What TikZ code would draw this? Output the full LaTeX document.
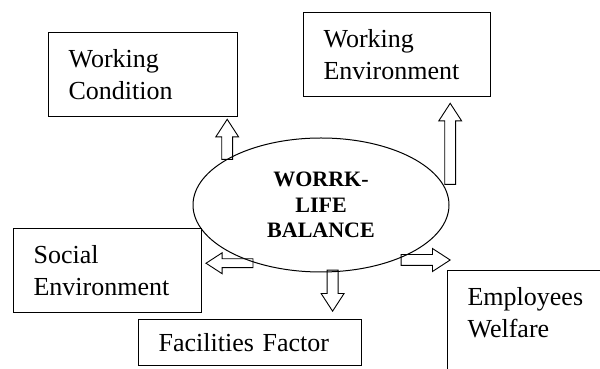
\documentclass[tikz,border=0pt]{standalone}
\usepackage{fontspec}
\setmainfont{Liberation Serif}
\usetikzlibrary{shapes.geometric,shapes.arrows}

\begin{document}
\begin{tikzpicture}[x=1pt,y=1pt,
  factor/.style={draw,line width=1.2pt,anchor=north west,align=left,inner xsep=20pt,inner ysep=17pt,font=\fontsize{26}{32}\selectfont},
  blockarr/.style={single arrow,draw,line width=0.9pt,inner sep=5pt,single arrow head extend=6pt,single arrow tip angle=66}]
  \clip (0,0) rectangle (600,369);
  % centre
  \node (wlb) [ellipse,draw,line width=1pt,minimum width=256pt,minimum height=134pt,inner sep=0pt,align=center,font=\bfseries\fontsize{22}{25.5}\selectfont] at (321,164) {WORRK-\\LIFE\\BALANCE};
  % factors
  \node (wc) [factor,text width=149pt] at (48,337) {Working\\Condition};
  \node (we) [factor,text width=147pt] at (303,357) {Working\\Environment};
  \node (se) [factor,text width=148pt] at (13,141) {Social\\Environment};
  \node (ff) [factor,text width=183pt,inner ysep=14pt] at (138,50) {Facilities Factor};
  \node (ew) [factor,text width=200pt,text depth=90pt] at (447,99) {Employees\\Welfare};
  % block arrows
  \node (a1) [blockarr,rotate=90,minimum height=40pt,anchor=tip] at ([xshift=-11pt,yshift=-1pt]wc.south east) {};
  \node (a2) [blockarr,rotate=90,minimum height=81pt,anchor=tip] at ([xshift=-41pt,yshift=-5pt]we.south east) {};
  \node (a3) [blockarr,rotate=180,minimum height=47pt,inner sep=4pt,anchor=tip] at ([xshift=3pt,yshift=7.5pt]se.east) {};
  \node (a4) [blockarr,rotate=-90,minimum height=41pt,anchor=tip] at ([xshift=82.5pt,yshift=7pt]ff.north) {};
  \node (a5) [blockarr,minimum height=49pt,anchor=tip] at ([xshift=4pt,yshift=10pt]ew.north west) {};
\end{tikzpicture}
\end{document}
